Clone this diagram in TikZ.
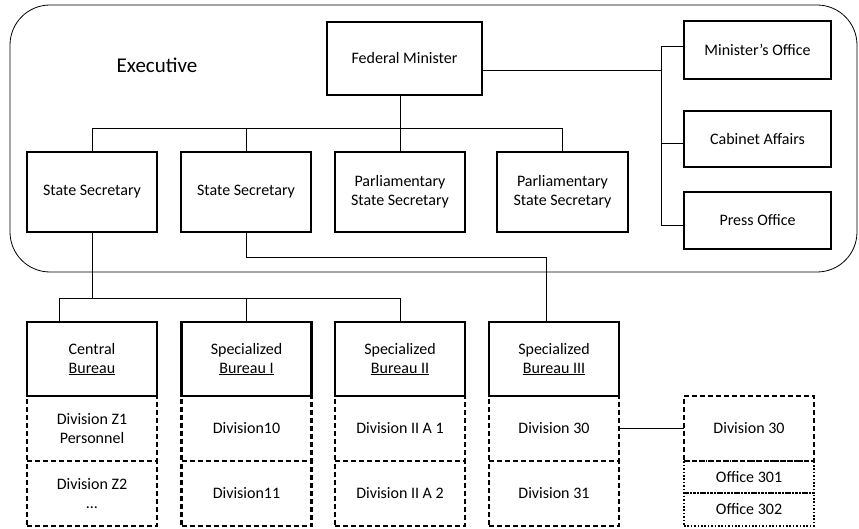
\documentclass[tikz,border=0pt]{standalone}
\usepackage{fontspec}
\setmainfont{Carlito}
\newcommand\myul[1]{\setbox0\hbox{#1}\rlap{\rule[-2pt]{\wd0}{0.8pt}}\box0}
\begin{document}
\begin{tikzpicture}[x=1pt,y=-1pt,
  box/.style={draw, line width=2.3pt, rectangle, inner sep=0pt, outer sep=0pt, align=center, font=\fontsize{16}{19}\selectfont, minimum width=130pt},
  headbox/.style={box, minimum height=80pt},
  divbox/.style={box, dash pattern=on 5pt off 3pt, minimum height=65pt},
  offbox/.style={box, dash pattern=on 1.6pt off 1.8pt, line width=2pt},
  conn/.style={line width=0.9pt}]
\useasboundingbox (0,0) rectangle (859,529);
\draw[line width=0.8pt, rounded corners=40pt] (10,5) rectangle (857,272);
\node[font=\fontsize{21}{24}\selectfont] (exec) at (157,65) {Executive};
% executive boxes
\node[box, minimum width=155pt, minimum height=73pt] (fm) at (404.5,58.5) {Federal Minister};
\node[headbox] (ss1) at (92,192) {State Secretary};
\node[headbox] (ss2) at (246,192) {State Secretary};
\node[headbox] (pss1) at (400,192) {Parliamentary\\State Secretary};
\node[headbox, minimum width=131pt] (pss2) at (562.5,192) {Parliamentary\\State Secretary};
\node[box, minimum width=147pt, minimum height=58pt] (mo) at (757.5,50) {Minister’s Office};
\node[box, minimum width=147pt, minimum height=56pt] (ca) at (757.5,139) {Cabinet Affairs};
\node[box, minimum width=147pt, minimum height=57pt] (po) at (757.5,220.5) {Press Office};
% bureaus
\node[box, minimum height=74pt] (bz) at (92,359) {Central\\\myul{Bureau}};
\node[box, minimum height=74pt] (b1) at (246.5,359) {Specialized\\\myul{Bureau I}};
\node[box, minimum height=74pt] (b2) at (400,359) {Specialized\\\myul{Bureau II}};
\node[box, minimum height=74pt] (b3) at (554,359) {Specialized\\\myul{Bureau III}};
% divisions
\node[divbox] (dz1) at (92,428.5) {Division Z1\\Personnel};
\node[divbox] (dz2) at (92,493.5) {Division Z2\\…};
\node[divbox] (d10) at (246.5,428.5) {Division10};
\node[divbox] (d11) at (246.5,493.5) {Division11};
\node[divbox] (da1) at (400,428.5) {Division II A 1};
\node[divbox] (da2) at (400,493.5) {Division II A 2};
\node[divbox] (d30) at (554,428.5) {Division 30};
\node[divbox] (d31) at (554,493.5) {Division 31};
\node[divbox] (d30r) at (749,428.5) {Division 30};
\node[offbox, minimum height=32pt] (o301) at (749,477) {Office 301};
\node[offbox, minimum height=33pt] (o302) at (749,509.5) {Office 302};
% connectors
\draw[conn] (ss1.north) -- ++(0,-24) -| (pss2.north);
\draw[conn] (ss2.north) -- ++(0,-24);
\draw[conn] (pss1.north) -- (pss1.north |- fm.south);
\draw[conn] ([yshift=-11.5pt]fm.east) -- ++(179,0);
\draw[conn] (mo.west) ++(0,-4) -- ++(-23,0) |- ([yshift=-4.5pt]po.west);
\draw[conn] ([yshift=-4pt]ca.west) -- ++(-23,0);
\draw[conn] (ss1.south) -- ++(0,66);
\draw[conn] ([xshift=-33pt]bz.north) -- ++(0,-24) -| (b2.north);
\draw[conn] (b1.north) -- ++(0,-24);
\draw[conn] (ss2.south) -- ++(0,25) -| ([xshift=-8pt]b3.north);
\draw[conn] (d30.east) -- (d30r.west);
\end{tikzpicture}
\end{document}
